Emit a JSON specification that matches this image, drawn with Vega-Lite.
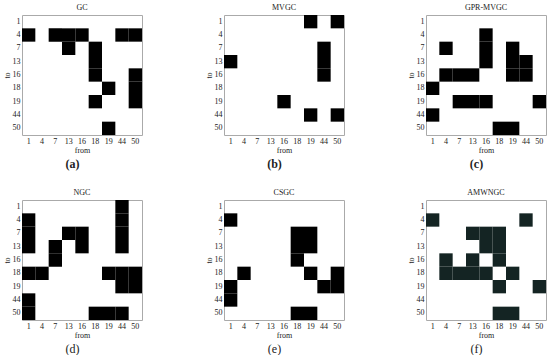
{
  "$schema": "https://vega.github.io/schema/vega-lite/v6.json",
  "padding": {"left": 2, "top": 3, "right": 0, "bottom": 0},
  "background": "white",
  "datasets": {
    "cells": [
      {"m":"GC","to":4,"from":1},{"m":"GC","to":4,"from":7},{"m":"GC","to":4,"from":13},{"m":"GC","to":4,"from":16},{"m":"GC","to":4,"from":44},{"m":"GC","to":4,"from":50},
      {"m":"GC","to":7,"from":13},{"m":"GC","to":7,"from":18},
      {"m":"GC","to":13,"from":18},
      {"m":"GC","to":16,"from":18},{"m":"GC","to":16,"from":50},
      {"m":"GC","to":18,"from":19},{"m":"GC","to":18,"from":50},
      {"m":"GC","to":19,"from":18},{"m":"GC","to":19,"from":50},
      {"m":"GC","to":50,"from":19},

      {"m":"MVGC","to":1,"from":19},{"m":"MVGC","to":1,"from":50},
      {"m":"MVGC","to":7,"from":44},
      {"m":"MVGC","to":13,"from":1},{"m":"MVGC","to":13,"from":44},
      {"m":"MVGC","to":16,"from":44},
      {"m":"MVGC","to":19,"from":16},
      {"m":"MVGC","to":44,"from":19},{"m":"MVGC","to":44,"from":50},

      {"m":"GPR-MVGC","to":4,"from":16},
      {"m":"GPR-MVGC","to":7,"from":4},{"m":"GPR-MVGC","to":7,"from":16},{"m":"GPR-MVGC","to":7,"from":19},
      {"m":"GPR-MVGC","to":13,"from":16},{"m":"GPR-MVGC","to":13,"from":19},{"m":"GPR-MVGC","to":13,"from":44},
      {"m":"GPR-MVGC","to":16,"from":4},{"m":"GPR-MVGC","to":16,"from":7},{"m":"GPR-MVGC","to":16,"from":13},{"m":"GPR-MVGC","to":16,"from":19},{"m":"GPR-MVGC","to":16,"from":44},
      {"m":"GPR-MVGC","to":18,"from":1},
      {"m":"GPR-MVGC","to":19,"from":7},{"m":"GPR-MVGC","to":19,"from":13},{"m":"GPR-MVGC","to":19,"from":16},{"m":"GPR-MVGC","to":19,"from":50},
      {"m":"GPR-MVGC","to":44,"from":1},
      {"m":"GPR-MVGC","to":50,"from":18},{"m":"GPR-MVGC","to":50,"from":19},

      {"m":"NGC","to":1,"from":44},
      {"m":"NGC","to":4,"from":1},{"m":"NGC","to":4,"from":44},
      {"m":"NGC","to":7,"from":1},{"m":"NGC","to":7,"from":13},{"m":"NGC","to":7,"from":16},{"m":"NGC","to":7,"from":44},
      {"m":"NGC","to":13,"from":1},{"m":"NGC","to":13,"from":7},{"m":"NGC","to":13,"from":16},{"m":"NGC","to":13,"from":44},
      {"m":"NGC","to":16,"from":7},
      {"m":"NGC","to":18,"from":1},{"m":"NGC","to":18,"from":4},{"m":"NGC","to":18,"from":19},{"m":"NGC","to":18,"from":44},{"m":"NGC","to":18,"from":50},
      {"m":"NGC","to":19,"from":44},{"m":"NGC","to":19,"from":50},
      {"m":"NGC","to":44,"from":1},
      {"m":"NGC","to":50,"from":1},{"m":"NGC","to":50,"from":18},{"m":"NGC","to":50,"from":19},{"m":"NGC","to":50,"from":44},

      {"m":"CSGC","to":4,"from":1},
      {"m":"CSGC","to":7,"from":18},{"m":"CSGC","to":7,"from":19},
      {"m":"CSGC","to":13,"from":18},{"m":"CSGC","to":13,"from":19},
      {"m":"CSGC","to":16,"from":18},
      {"m":"CSGC","to":18,"from":4},{"m":"CSGC","to":18,"from":19},{"m":"CSGC","to":18,"from":50},
      {"m":"CSGC","to":19,"from":1},{"m":"CSGC","to":19,"from":44},{"m":"CSGC","to":19,"from":50},
      {"m":"CSGC","to":44,"from":1},
      {"m":"CSGC","to":50,"from":18},{"m":"CSGC","to":50,"from":19},

      {"m":"AMWNGC","to":4,"from":1},{"m":"AMWNGC","to":4,"from":44},
      {"m":"AMWNGC","to":7,"from":13},{"m":"AMWNGC","to":7,"from":16},{"m":"AMWNGC","to":7,"from":18},
      {"m":"AMWNGC","to":13,"from":16},{"m":"AMWNGC","to":13,"from":18},
      {"m":"AMWNGC","to":16,"from":4},{"m":"AMWNGC","to":16,"from":13},{"m":"AMWNGC","to":16,"from":18},
      {"m":"AMWNGC","to":18,"from":4},{"m":"AMWNGC","to":18,"from":7},{"m":"AMWNGC","to":18,"from":13},{"m":"AMWNGC","to":18,"from":16},{"m":"AMWNGC","to":18,"from":19},
      {"m":"AMWNGC","to":19,"from":18},{"m":"AMWNGC","to":19,"from":50},
      {"m":"AMWNGC","to":50,"from":18},{"m":"AMWNGC","to":50,"from":19}
    ]
  },
  "spacing": 18,
  "vconcat": [
    {
      "spacing": 61,
      "hconcat": [
        {"title": {"text": "(a)", "orient": "bottom", "anchor": "middle", "fontSize": 12, "fontWeight": "bold", "offset": 4},
         "vconcat": [{"title": "GC", "width": 120, "height": 120, "data": {"name": "cells"},
          "transform": [{"filter": "datum.m === 'GC'"}],
          "mark": {"type": "rect", "color": "black"},
          "encoding": {
            "x": {"field": "from", "type": "ordinal", "title": "from", "scale": {"domain": [1,4,7,13,16,18,19,44,50], "paddingInner": 0, "paddingOuter": 0}, "axis": {"labelAngle": 0}},
            "y": {"field": "to", "type": "ordinal", "title": "to", "scale": {"domain": [1,4,7,13,16,18,19,44,50], "paddingInner": 0, "paddingOuter": 0}}
          }}]},
        {"title": {"text": "(b)", "orient": "bottom", "anchor": "middle", "fontSize": 12, "fontWeight": "bold", "offset": 4},
         "vconcat": [{"title": "MVGC", "width": 120, "height": 120, "data": {"name": "cells"},
          "transform": [{"filter": "datum.m === 'MVGC'"}],
          "mark": {"type": "rect", "color": "black"},
          "encoding": {
            "x": {"field": "from", "type": "ordinal", "title": "from", "scale": {"domain": [1,4,7,13,16,18,19,44,50], "paddingInner": 0, "paddingOuter": 0}, "axis": {"labelAngle": 0}},
            "y": {"field": "to", "type": "ordinal", "title": "to", "scale": {"domain": [1,4,7,13,16,18,19,44,50], "paddingInner": 0, "paddingOuter": 0}}
          }}]},
        {"title": {"text": "(c)", "orient": "bottom", "anchor": "middle", "fontSize": 12, "fontWeight": "bold", "offset": 4},
         "vconcat": [{"title": "GPR-MVGC", "width": 120, "height": 120, "data": {"name": "cells"},
          "transform": [{"filter": "datum.m === 'GPR-MVGC'"}],
          "mark": {"type": "rect", "color": "black"},
          "encoding": {
            "x": {"field": "from", "type": "ordinal", "title": "from", "scale": {"domain": [1,4,7,13,16,18,19,44,50], "paddingInner": 0, "paddingOuter": 0}, "axis": {"labelAngle": 0}},
            "y": {"field": "to", "type": "ordinal", "title": "to", "scale": {"domain": [1,4,7,13,16,18,19,44,50], "paddingInner": 0, "paddingOuter": 0}}
          }}]}
      ]
    },
    {
      "spacing": 61,
      "hconcat": [
        {"title": {"text": "(d)", "orient": "bottom", "anchor": "middle", "fontSize": 12, "offset": 4},
         "vconcat": [{"title": "NGC", "width": 120, "height": 120, "data": {"name": "cells"},
          "transform": [{"filter": "datum.m === 'NGC'"}],
          "mark": {"type": "rect", "color": "black"},
          "encoding": {
            "x": {"field": "from", "type": "ordinal", "title": "from", "scale": {"domain": [1,4,7,13,16,18,19,44,50], "paddingInner": 0, "paddingOuter": 0}, "axis": {"labelAngle": 0}},
            "y": {"field": "to", "type": "ordinal", "title": "to", "scale": {"domain": [1,4,7,13,16,18,19,44,50], "paddingInner": 0, "paddingOuter": 0}}
          }}]},
        {"title": {"text": "(e)", "orient": "bottom", "anchor": "middle", "fontSize": 12, "offset": 4},
         "vconcat": [{"title": "CSGC", "width": 120, "height": 120, "data": {"name": "cells"},
          "transform": [{"filter": "datum.m === 'CSGC'"}],
          "mark": {"type": "rect", "color": "black"},
          "encoding": {
            "x": {"field": "from", "type": "ordinal", "title": "from", "scale": {"domain": [1,4,7,13,16,18,19,44,50], "paddingInner": 0, "paddingOuter": 0}, "axis": {"labelAngle": 0}},
            "y": {"field": "to", "type": "ordinal", "title": "to", "scale": {"domain": [1,4,7,13,16,18,19,44,50], "paddingInner": 0, "paddingOuter": 0}}
          }}]},
        {"title": {"text": "(f)", "orient": "bottom", "anchor": "middle", "fontSize": 12, "offset": 4},
         "vconcat": [{"title": "AMWNGC", "width": 120, "height": 120, "data": {"name": "cells"},
          "transform": [{"filter": "datum.m === 'AMWNGC'"}],
          "mark": {"type": "rect", "color": "#142423"},
          "encoding": {
            "x": {"field": "from", "type": "ordinal", "title": "from", "scale": {"domain": [1,4,7,13,16,18,19,44,50], "paddingInner": 0, "paddingOuter": 0}, "axis": {"labelAngle": 0}},
            "y": {"field": "to", "type": "ordinal", "title": "to", "scale": {"domain": [1,4,7,13,16,18,19,44,50], "paddingInner": 0, "paddingOuter": 0}}
          }}]}
      ]
    }
  ],
  "config": {
    "view": {"stroke": "#aaaaaa", "strokeWidth": 1},
    "axis": {"domain": false, "ticks": false, "grid": false, "labelFont": "Liberation Serif", "labelFontSize": 8, "labelColor": "#222222", "labelPadding": 2, "titleFont": "Liberation Serif", "titleFontSize": 8, "titleFontWeight": "normal", "titleColor": "#222222", "titlePadding": 1},
    "title": {"font": "Liberation Serif", "fontSize": 8, "fontWeight": "normal", "color": "#222222", "offset": 3}
  }
}
